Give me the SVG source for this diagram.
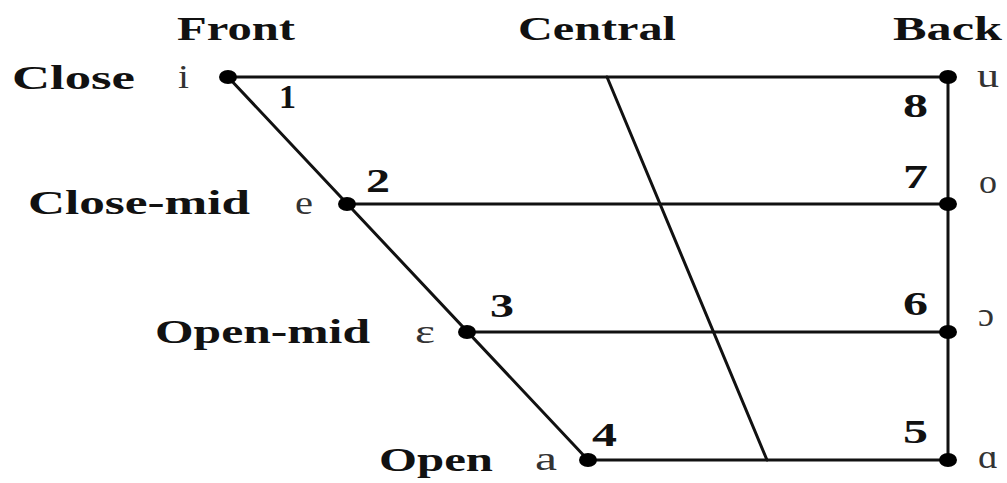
<svg xmlns="http://www.w3.org/2000/svg" width="1007" height="483" viewBox="0 0 1007 483">
<style>
text{font-family:"Liberation Serif","Times New Roman",serif;fill:#111}
.lab{font-size:34px;font-weight:bold}
.num{font-size:33px;font-weight:bold}
.v{font-size:34px;font-weight:normal;fill:#333}
.ln{stroke:#111;stroke-width:3;fill:none;stroke-linecap:round}
.dot{fill:#000}
</style>
<rect width="1007" height="483" fill="#fff"/>
<g id="headers">
<text class="lab" x="177" y="40" textLength="118" lengthAdjust="spacingAndGlyphs">Front</text>
<text class="lab" x="518" y="40" textLength="158" lengthAdjust="spacingAndGlyphs">Central</text>
<text class="lab" x="893" y="40" textLength="109" lengthAdjust="spacingAndGlyphs">Back</text>
</g>
<g id="rows">
<text class="lab" x="12" y="89" textLength="123" lengthAdjust="spacingAndGlyphs">Close</text>
<text class="lab" x="28" y="214" textLength="222" lengthAdjust="spacingAndGlyphs">Close-mid</text>
<text class="lab" x="155" y="343" textLength="215" lengthAdjust="spacingAndGlyphs">Open-mid</text>
<text class="lab" x="379" y="471" textLength="114" lengthAdjust="spacingAndGlyphs">Open</text>
</g>
<g id="connectors">
<line class="ln" x1="228" y1="77" x2="948" y2="77"/>
<line class="ln" x1="347" y1="204" x2="948" y2="204"/>
<line class="ln" x1="467" y1="332" x2="948" y2="332"/>
<line class="ln" x1="588" y1="460" x2="948" y2="460"/>
<line class="ln" x1="228" y1="77" x2="588" y2="460"/>
<line class="ln" x1="948" y1="77" x2="948" y2="460"/>
<line class="ln" x1="607" y1="77" x2="767" y2="460"/>
</g>
<g id="v1">
<ellipse class="dot" cx="228" cy="77" rx="9" ry="7"/>
<text class="v" x="178" y="88" textLength="11" lengthAdjust="spacingAndGlyphs">i</text>
<text class="num" x="279" y="108" textLength="17" lengthAdjust="spacingAndGlyphs">1</text>
</g>
<g id="v2">
<ellipse class="dot" cx="347" cy="204" rx="9" ry="7"/>
<text class="v" x="295" y="214" textLength="18" lengthAdjust="spacingAndGlyphs">e</text>
<text class="num" x="366" y="192" textLength="24" lengthAdjust="spacingAndGlyphs">2</text>
</g>
<g id="v3">
<ellipse class="dot" cx="467" cy="332" rx="9" ry="7"/>
<text class="v" x="415" y="343" textLength="20" lengthAdjust="spacingAndGlyphs">ɛ</text>
<text class="num" x="490" y="317" textLength="24" lengthAdjust="spacingAndGlyphs">3</text>
</g>
<g id="v4">
<ellipse class="dot" cx="588" cy="460" rx="9" ry="7"/>
<text class="v" x="535" y="470" textLength="22" lengthAdjust="spacingAndGlyphs">a</text>
<text class="num" x="592" y="446" textLength="25" lengthAdjust="spacingAndGlyphs">4</text>
</g>
<g id="v5">
<ellipse class="dot" cx="948" cy="460" rx="9" ry="7"/>
<text class="v" x="978" y="468" textLength="20" lengthAdjust="spacingAndGlyphs">ɑ</text>
<text class="num" x="903" y="443" textLength="25" lengthAdjust="spacingAndGlyphs">5</text>
</g>
<g id="v6">
<ellipse class="dot" cx="948" cy="332" rx="9" ry="7"/>
<text class="v" x="978" y="326" textLength="16" lengthAdjust="spacingAndGlyphs">ɔ</text>
<text class="num" x="903" y="315" textLength="25" lengthAdjust="spacingAndGlyphs">6</text>
</g>
<g id="v7">
<ellipse class="dot" cx="948" cy="204" rx="9" ry="7"/>
<text class="v" x="979" y="193" textLength="18" lengthAdjust="spacingAndGlyphs">o</text>
<text class="num" x="903" y="188" textLength="25" lengthAdjust="spacingAndGlyphs">7</text>
</g>
<g id="v8">
<ellipse class="dot" cx="948" cy="77" rx="9" ry="7"/>
<text class="v" x="977" y="87" textLength="22" lengthAdjust="spacingAndGlyphs">u</text>
<text class="num" x="903" y="117" textLength="25" lengthAdjust="spacingAndGlyphs">8</text>
</g>
</svg>
